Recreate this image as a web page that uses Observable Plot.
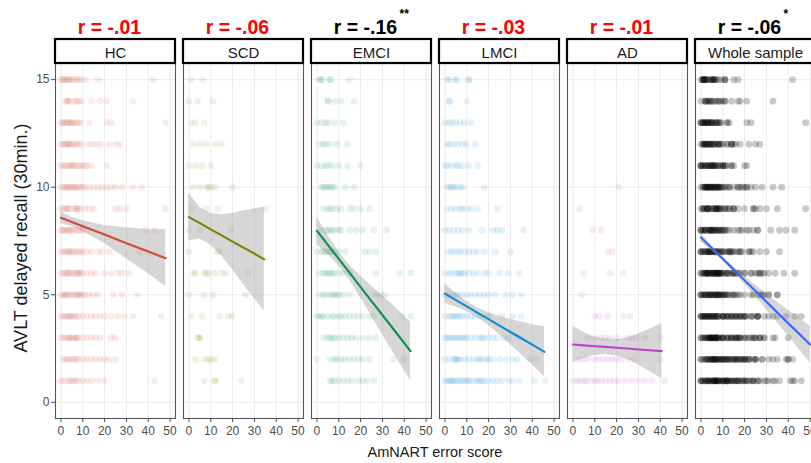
<!DOCTYPE html>
<html><head><meta charset="utf-8">
<script src="https://cdn.jsdelivr.net/npm/d3@7"></script>
<script src="https://cdn.jsdelivr.net/npm/@observablehq/plot@0.6"></script>
<style>
html,body{margin:0;padding:0;background:#fff;overflow:hidden;}
#wrap{position:relative;width:811px;height:463px;overflow:hidden;}
#wrap svg{max-width:none !important;width:820px !important;height:463px !important;display:block;}
</style></head><body><div id="wrap"></div>
<script>
// ---- categories & labels ----
const groups = ["HC", "SCD", "EMCI", "LMCI", "AD", "Whole sample"];
const rLabels = ["r = -.01", "r = -.06", "r = -.16", "r = -.03", "r = -.01", "r = -.06"];
const rStars = ["", "", "**", "", "", "*"];
const rColors = ["#ff0000", "#ff0000", "#000000", "#ff0000", "#ff0000", "#000000"];
const groupColors = ["#D3483A", "#808000", "#0A9150", "#1687D2", "#C23FC8", "#3366FF"];
const xTicks = [0, 10, 20, 30, 40, 50];
const yTicks = [0, 5, 10, 15];
const xTitle = "AmNART error score";
const yTitle = "AVLT delayed recall (30min.)";

// ---- scatter values: recall score rows (15 down to 1), error scores per row ----
const rowScores = [15, 14, 13, 12, 11, 10, 9, 8, 7, 6, 5, 4, 3, 2, 1];
const hcRows = [
  "0 1 1 2 3 3 4 5 6 7 8 9 11 17 42",
  "2 3 3 4 6 7 8 9 14 18 21 33",
  "0 1 1 2 3 3 4 5 5 6 7 8 9 13 21 23 48",
  "0 1 2 2 3 4 4 5 6 7 8 9 12 14 16 18 22 25 27",
  "0 1 2 3 4 5 5 6 7 8 9 10 11 12 14 21",
  "0 1 2 3 3 4 5 6 6 7 8 9 10 11 13 15 17 19 21 23 25 28 33 37",
  "0 1 2 3 3 4 6 7 7 8 9 11 13 15 25 27 30 48",
  "0 1 1 2 3 4 4 5 6 7 8 9 10 12 39 43",
  "0 1 2 3 4 4 5 6 7 8 9 10 12 14 17 19 22 36",
  "0 1 2 3 3 4 5 6 7 8 8 9 10 12 14 16 20 23 26 28 31",
  "0 1 2 2 3 4 5 6 7 8 8 9 10 11 13 15 17 24 28 35",
  "0 1 2 3 4 4 5 6 7 8 10 12 14 16 18 20 23 26 29 33 46",
  "0 1 2 3 4 4 5 6 7 7 8 10 12 14 16 18 23 25",
  "1 2 3 4 5 6 7 8 10 12 14 16 18 20 22 25",
  "0 1 3 4 5 6 7 8 10 12 14 17 20 43"
];
const scdRows = [
  "1 6",
  "0 4 11",
  "1 3 7",
  "2 5 8 12 15",
  "0 3 6 10",
  "2 5 8 9 10 12 20",
  "1 8 13 35",
  "0 5 19",
  "0 13 14",
  "2 3 7 8 9 12 15 17 27",
  "0 7 11 26",
  "1 6 14 18 20",
  "4 5 5",
  "3 7 9 10 12",
  "7 12 12 24"
];
const emciRows = [
  "1 2 2 6 6 15",
  "5 5 8 11 17",
  "0 2 4 5 8 12",
  "1 3 4 6 9 14",
  "0 2 4 5 7 10 14 20",
  "2 3 4 5 6 7 8 13 17",
  "3 5 6 7 9 11 15 17 20 24",
  "2 4 5 6 7 8 10 11 15 18 21 26 32",
  "0 2 3 4 5 6 7 8 10 13 22 24 27",
  "1 3 4 5 6 7 8 10 12 15 27 38 43",
  "1 3 4 6 7 8 9 10 12 15 27 29 31",
  "0 1 2 3 5 7 8 10 11 13 15 17 19 21 24 26 39 43",
  "3 5 6 7 8 10 12 14 16 18 21 24 27",
  "0 6 8 9 11 13 15 17 19 21 24 35 40",
  "6 7 8 10 12 14 16 19 21 23 26"
];
const lmciRows = [
  "1 2 5 5 11 11",
  "2 2 10",
  "0 2 3 5 7 9 12",
  "1 2 4 6 8 10 14",
  "0 1 3 5 6 8 11 15",
  "1 2 3 4 5 7 8 18",
  "1 3 5 7 8 10 12 15 24",
  "0 2 4 6 8 11 17 22 24 26 36",
  "1 3 4 6 7 9 11 13 15 18 23 30",
  "0 2 3 5 6 7 8 9 11 13 15 18 20 25 29 34",
  "0 2 4 5 6 8 10 12 14 16 18 20 23 28 31 35",
  "0 2 3 4 5 6 7 8 10 12 14 16 18 20 26 31 35",
  "0 1 2 3 4 5 6 7 8 9 10 12 14 16 17 18 20 22 24 27 29 34",
  "0 2 4 5 5 6 7 9 11 13 15 16 17 19 20 22 25 28 31 33 39 42",
  "0 1 2 3 3 4 5 6 7 8 9 10 11 12 14 15 16 17 18 20 22 24 26 29 31 34 41 46"
];
const adRows = [
  "", "", "", "", "",
  "21",
  "3",
  "9 13",
  "16 18",
  "5 17 23",
  "4",
  "10 12 16 23 26",
  "7 10 13 15 17 20 25 27 29 33 40",
  "3 5 7 10 12 14 16 18 20 22 25 28 40",
  "0 2 3 5 6 8 10 11 13 15 17 19 21 24 27 30 33 36 42"
];

// ---- fitted regression lines with confidence bands ----
const hcFitX  = [0, 5, 10, 20, 30, 40, 48];
const hcFitY  = [8.58, 8.38, 8.19, 7.80, 7.40, 7.01, 6.70];
const hcFitLo = [8.31, 8.16, 7.94, 7.38, 6.68, 5.99, 5.37];
const hcFitHi = [8.85, 8.60, 8.44, 8.22, 8.12, 8.03, 8.03];

const scdFitX  = [0, 5, 10, 15, 20, 25, 30, 34.5];
const scdFitY  = [8.61, 8.33, 8.04, 7.76, 7.47, 7.19, 6.91, 6.65];
const scdFitLo = [7.50, 7.61, 7.30, 6.80, 6.16, 5.48, 4.82, 4.23];
const scdFitHi = [9.73, 9.05, 8.78, 8.72, 8.78, 8.90, 9.00, 9.07];

const emciFitX  = [0, 5, 10, 15, 20, 25, 30, 35, 42.9];
const emciFitY  = [7.97, 7.32, 6.67, 6.02, 5.36, 4.71, 4.06, 3.41, 2.38];
const emciFitLo = [7.32, 6.87, 6.35, 5.67, 4.86, 4.01, 3.16, 2.31, 1.03];
const emciFitHi = [8.62, 7.77, 6.99, 6.37, 5.86, 5.41, 4.96, 4.51, 3.73];

const lmciFitX  = [0, 5, 10, 15, 20, 25, 30, 35, 40, 45.6];
const lmciFitY  = [5.05, 4.75, 4.46, 4.16, 3.87, 3.57, 3.27, 2.98, 2.68, 2.35];
const lmciFitLo = [4.60, 4.43, 4.22, 3.93, 3.57, 3.14, 2.69, 2.23, 1.75, 1.18];
const lmciFitHi = [5.50, 5.07, 4.70, 4.39, 4.17, 4.00, 3.85, 3.73, 3.61, 3.52];

const adFitX  = [0, 5, 10, 15, 20, 25, 30, 35, 40.7];
const adFitY  = [2.69, 2.65, 2.61, 2.58, 2.54, 2.50, 2.46, 2.42, 2.38];
const adFitLo = [1.84, 2.05, 2.18, 2.22, 2.16, 2.00, 1.74, 1.45, 1.10];
const adFitHi = [3.54, 3.25, 3.04, 2.94, 2.92, 3.00, 3.18, 3.39, 3.66];

const wholeFitX  = [0, 5, 10, 15, 20, 25, 30, 35, 40, 45, 50];
const wholeFitY  = [7.66, 7.16, 6.67, 6.17, 5.67, 5.18, 4.68, 4.18, 3.68, 3.19, 2.69];
const wholeFitLo = [7.46, 7.03, 6.57, 6.05, 5.49, 4.91, 4.31, 3.70, 3.08, 2.47, 1.84];
const wholeFitHi = [7.86, 7.29, 6.77, 6.29, 5.85, 5.45, 5.05, 4.66, 4.28, 3.91, 3.54];

// ---- build tables ----
const rowSets = [hcRows, scdRows, emciRows, lmciRows, adRows];
const groupPoints = [];
rowSets.forEach((rowsOfGroup, gi) => {
  rowsOfGroup.forEach((s, ri) => {
    s.trim().split(/\s+/).filter(t => t !== "").forEach(t => {
      groupPoints.push({group: groups[gi], x: +t, y: rowScores[ri]});
    });
  });
});
const wholePoints = groupPoints.map(d => ({group: "Whole sample", x: d.x, y: d.y}));

const fitSets = [
  [hcFitX, hcFitY, hcFitLo, hcFitHi],
  [scdFitX, scdFitY, scdFitLo, scdFitHi],
  [emciFitX, emciFitY, emciFitLo, emciFitHi],
  [lmciFitX, lmciFitY, lmciFitLo, lmciFitHi],
  [adFitX, adFitY, adFitLo, adFitHi],
  [wholeFitX, wholeFitY, wholeFitLo, wholeFitHi]
];
const fits = [];
fitSets.forEach(([X, Y, L, H], gi) => {
  X.forEach((x, i) => fits.push({group: groups[gi], x, y: Y[i], lo: L[i], hi: H[i]}));
});
const titles = groups.map((g, i) => ({group: g, text: rLabels[i], color: rColors[i], star: rStars[i]}));

// ---- layout ----
const xDomain = [-2.5, 52.5];
const yDomain = [-0.75, 15.75];
const marginTop = 63, marginBottom = 45, height = 463;
const pxPerY = (height - marginTop - marginBottom) / (yDomain[1] - yDomain[0]);
const stripUnits = 24 / pxPerY;
const font = "'Liberation Sans', Arial, sans-serif";

const chart = Plot.plot({
  width: 820, height,
  marginLeft: 52, marginRight: 2, marginTop, marginBottom,
  style: {fontFamily: font, background: "white", overflow: "visible", maxWidth: "none"},
  fx: {domain: groups, paddingInner: 0.062, paddingOuter: 0, axis: null, label: null},
  x: {domain: xDomain, label: null},
  y: {domain: yDomain, label: null},
  color: {domain: groups, range: groupColors},
  marks: [
    Plot.gridX({ticks: xTicks, stroke: "#ebebeb", strokeOpacity: 1, strokeWidth: 1}),
    Plot.gridY({ticks: yTicks, stroke: "#ebebeb", strokeOpacity: 1, strokeWidth: 1}),
    Plot.dot(groupPoints, {fx: "group", x: "x", y: "y", r: 3.4, fill: "group", fillOpacity: 0.11, stroke: null}),
    Plot.dot(wholePoints, {fx: "group", x: "x", y: "y", r: 3.4, fill: "black", fillOpacity: 0.21, stroke: null}),
    Plot.areaY(fits, {fx: "group", x: "x", y1: "lo", y2: "hi", z: "group", fill: "#999999", fillOpacity: 0.4}),
    Plot.line(fits, {fx: "group", x: "x", y: "y", z: "group", stroke: "group", strokeWidth: 2.1}),
    Plot.frame({stroke: "#555555", strokeWidth: 1.1}),
    Plot.rect(groups, {fx: d => d, x1: xDomain[0], x2: xDomain[1], y1: yDomain[1], y2: yDomain[1] + stripUnits,
      fill: "white", stroke: "black", strokeWidth: 2.2}),
    Plot.text(groups, {fx: d => d, text: d => d, frameAnchor: "top", lineAnchor: "bottom", dy: -5.5,
      fontSize: 15, fill: "#1a1a1a"}),
    Plot.text(titles, {fx: "group", text: "text", frameAnchor: "top", lineAnchor: "bottom", dy: -30, dx: -6,
      fontSize: 19.5, fontWeight: "bold", fill: "color"}),
    Plot.text(titles, {fx: "group", text: "star", frameAnchor: "top", lineAnchor: "bottom", dy: -46, dx: 28,
      textAnchor: "start", fontSize: 12, fontWeight: "bold", fill: "color"}),
    Plot.axisX({ticks: xTicks, tickSize: 4, tickPadding: 4, fontSize: 12, color: "#4d4d4d", label: null}),
    Plot.axisY({ticks: yTicks, tickSize: 4, tickPadding: 2, fontSize: 12, color: "#4d4d4d", label: null})
  ]
});

const svg = d3.select(chart);
svg.append("text").attr("x", 435).attr("y", 457).attr("text-anchor", "middle")
  .attr("font-family", font).attr("font-size", 14.5).attr("fill", "#1a1a1a").text(xTitle);
svg.append("text").attr("transform", "translate(27,238) rotate(-90)").attr("text-anchor", "middle")
  .attr("font-family", font).attr("font-size", 18).attr("fill", "#1a1a1a").text(yTitle);

document.getElementById("wrap").appendChild(chart);
</script>
</body></html>
